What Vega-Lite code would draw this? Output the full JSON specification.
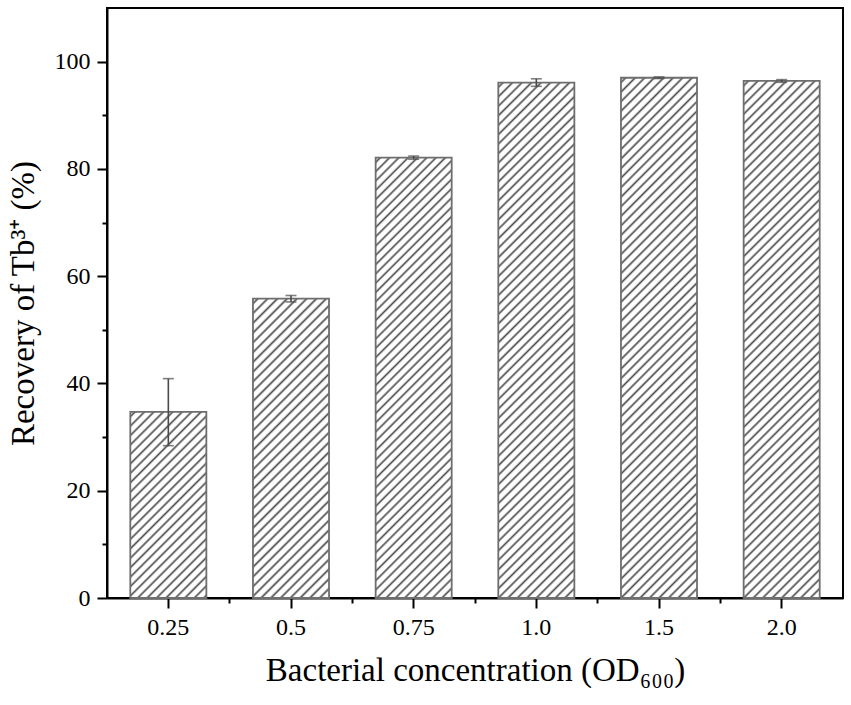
{
  "$schema": "https://vega.github.io/schema/vega-lite/v6.json",
  "width": 736,
  "height": 590,
  "autosize": "none",
  "padding": {"left": 107, "top": 8, "right": 8, "bottom": 107},
  "background": "white",
  "data": {
    "values": [
      {"od": "0.25", "recovery": 34.7, "lo": 28.4, "hi": 40.9},
      {"od": "0.5", "recovery": 55.8, "lo": 55.2, "hi": 56.4},
      {"od": "0.75", "recovery": 82.1, "lo": 81.8, "hi": 82.4},
      {"od": "1.0", "recovery": 96.1, "lo": 95.4, "hi": 96.8},
      {"od": "1.5", "recovery": 97.0, "lo": 96.85, "hi": 97.15},
      {"od": "2.0", "recovery": 96.4, "lo": 96.15, "hi": 96.65}
    ]
  },
  "layer": [
    {
      "mark": {"type": "bar", "stroke": "#6e6e6e", "strokeWidth": 1.8},
      "encoding": {
        "x": {
          "field": "od", "type": "nominal", "sort": null,
          "scale": {"paddingInner": 0.38, "paddingOuter": 0.19},
          "axis": {
            "orient": "bottom",
            "title": "Bacterial concentration (OD₆₀₀)",
            "labelAngle": 0, "labelFontSize": 24, "labelPadding": 7, "labelColor": "black",
            "tickSize": 10, "tickWidth": 2, "tickColor": "black",
            "domainColor": "black", "domainWidth": 2,
            "titleFontSize": 33, "titleFontWeight": "normal", "titleColor": "black", "titlePadding": 15,
            "grid": false
          }
        },
        "y": {
          "field": "recovery", "type": "quantitative",
          "scale": {"domain": [0, 110], "nice": false},
          "axis": {
            "orient": "left",
            "values": [0, 20, 40, 60, 80, 100],
            "title": "Recovery of Tb³⁺ (%)",
            "labelFontSize": 24, "labelPadding": 7, "labelColor": "black",
            "tickSize": 10, "tickWidth": 2, "tickColor": "black",
            "domainColor": "black", "domainWidth": 2,
            "titleFontSize": 33, "titleFontWeight": "normal", "titleColor": "black", "titlePadding": 14,
            "grid": false
          }
        },
        "fill": {
          "condition": [
            {"test": "datum.od == '0.25'", "value": {"gradient": "linear", "x1": 0, "y1": 0, "x2": 0.4933, "y2": 1.2071, "stops": [
              {"offset":0.009,"color":"#fff"},{"offset":0.018,"color":"#4d4d4d"},{"offset":0.027,"color":"#fff"},
              {"offset":0.045,"color":"#fff"},{"offset":0.054,"color":"#4d4d4d"},{"offset":0.063,"color":"#fff"},
              {"offset":0.081,"color":"#fff"},{"offset":0.090,"color":"#4d4d4d"},{"offset":0.099,"color":"#fff"},
              {"offset":0.117,"color":"#fff"},{"offset":0.126,"color":"#4d4d4d"},{"offset":0.135,"color":"#fff"},
              {"offset":0.153,"color":"#fff"},{"offset":0.162,"color":"#4d4d4d"},{"offset":0.171,"color":"#fff"},
              {"offset":0.189,"color":"#fff"},{"offset":0.198,"color":"#4d4d4d"},{"offset":0.207,"color":"#fff"},
              {"offset":0.225,"color":"#fff"},{"offset":0.234,"color":"#4d4d4d"},{"offset":0.243,"color":"#fff"},
              {"offset":0.261,"color":"#fff"},{"offset":0.270,"color":"#4d4d4d"},{"offset":0.279,"color":"#fff"},
              {"offset":0.297,"color":"#fff"},{"offset":0.306,"color":"#4d4d4d"},{"offset":0.315,"color":"#fff"},
              {"offset":0.333,"color":"#fff"},{"offset":0.342,"color":"#4d4d4d"},{"offset":0.351,"color":"#fff"},
              {"offset":0.369,"color":"#fff"},{"offset":0.378,"color":"#4d4d4d"},{"offset":0.387,"color":"#fff"},
              {"offset":0.405,"color":"#fff"},{"offset":0.414,"color":"#4d4d4d"},{"offset":0.423,"color":"#fff"},
              {"offset":0.441,"color":"#fff"},{"offset":0.450,"color":"#4d4d4d"},{"offset":0.459,"color":"#fff"},
              {"offset":0.477,"color":"#fff"},{"offset":0.486,"color":"#4d4d4d"},{"offset":0.495,"color":"#fff"},
              {"offset":0.513,"color":"#fff"},{"offset":0.522,"color":"#4d4d4d"},{"offset":0.531,"color":"#fff"},
              {"offset":0.549,"color":"#fff"},{"offset":0.558,"color":"#4d4d4d"},{"offset":0.567,"color":"#fff"},
              {"offset":0.585,"color":"#fff"},{"offset":0.594,"color":"#4d4d4d"},{"offset":0.603,"color":"#fff"},
              {"offset":0.621,"color":"#fff"},{"offset":0.630,"color":"#4d4d4d"},{"offset":0.639,"color":"#fff"},
              {"offset":0.657,"color":"#fff"},{"offset":0.666,"color":"#4d4d4d"},{"offset":0.675,"color":"#fff"},
              {"offset":0.693,"color":"#fff"},{"offset":0.702,"color":"#4d4d4d"},{"offset":0.711,"color":"#fff"},
              {"offset":0.729,"color":"#fff"},{"offset":0.738,"color":"#4d4d4d"},{"offset":0.747,"color":"#fff"},
              {"offset":0.765,"color":"#fff"},{"offset":0.774,"color":"#4d4d4d"},{"offset":0.783,"color":"#fff"},
              {"offset":0.801,"color":"#fff"},{"offset":0.810,"color":"#4d4d4d"},{"offset":0.819,"color":"#fff"},
              {"offset":0.837,"color":"#fff"},{"offset":0.846,"color":"#4d4d4d"},{"offset":0.855,"color":"#fff"},
              {"offset":0.873,"color":"#fff"},{"offset":0.882,"color":"#4d4d4d"},{"offset":0.891,"color":"#fff"},
              {"offset":0.909,"color":"#fff"},{"offset":0.918,"color":"#4d4d4d"},{"offset":0.927,"color":"#fff"},
              {"offset":0.945,"color":"#fff"},{"offset":0.954,"color":"#4d4d4d"},{"offset":0.963,"color":"#fff"},
              {"offset":0.981,"color":"#fff"},{"offset":0.990,"color":"#4d4d4d"},{"offset":0.999,"color":"#fff"}
            ]}},
            {"test": "datum.od == '0.5'", "value": {"gradient": "linear", "x1": 0, "y1": 0, "x2": 0.2993, "y2": 1.178, "stops": [
              {"offset":0.0065,"color":"#fff"},{"offset":0.013,"color":"#4d4d4d"},{"offset":0.0195,"color":"#fff"},
              {"offset":0.0325,"color":"#fff"},{"offset":0.039,"color":"#4d4d4d"},{"offset":0.0455,"color":"#fff"},
              {"offset":0.0585,"color":"#fff"},{"offset":0.065,"color":"#4d4d4d"},{"offset":0.0715,"color":"#fff"},
              {"offset":0.0845,"color":"#fff"},{"offset":0.091,"color":"#4d4d4d"},{"offset":0.0975,"color":"#fff"},
              {"offset":0.1105,"color":"#fff"},{"offset":0.117,"color":"#4d4d4d"},{"offset":0.1235,"color":"#fff"},
              {"offset":0.1365,"color":"#fff"},{"offset":0.143,"color":"#4d4d4d"},{"offset":0.1495,"color":"#fff"},
              {"offset":0.1625,"color":"#fff"},{"offset":0.169,"color":"#4d4d4d"},{"offset":0.1755,"color":"#fff"},
              {"offset":0.1885,"color":"#fff"},{"offset":0.195,"color":"#4d4d4d"},{"offset":0.2015,"color":"#fff"},
              {"offset":0.2145,"color":"#fff"},{"offset":0.221,"color":"#4d4d4d"},{"offset":0.2275,"color":"#fff"},
              {"offset":0.2405,"color":"#fff"},{"offset":0.247,"color":"#4d4d4d"},{"offset":0.2535,"color":"#fff"},
              {"offset":0.2665,"color":"#fff"},{"offset":0.273,"color":"#4d4d4d"},{"offset":0.2795,"color":"#fff"},
              {"offset":0.2925,"color":"#fff"},{"offset":0.299,"color":"#4d4d4d"},{"offset":0.3055,"color":"#fff"},
              {"offset":0.3185,"color":"#fff"},{"offset":0.325,"color":"#4d4d4d"},{"offset":0.3315,"color":"#fff"},
              {"offset":0.3445,"color":"#fff"},{"offset":0.351,"color":"#4d4d4d"},{"offset":0.3575,"color":"#fff"},
              {"offset":0.3705,"color":"#fff"},{"offset":0.377,"color":"#4d4d4d"},{"offset":0.3835,"color":"#fff"},
              {"offset":0.3965,"color":"#fff"},{"offset":0.403,"color":"#4d4d4d"},{"offset":0.4095,"color":"#fff"},
              {"offset":0.4225,"color":"#fff"},{"offset":0.429,"color":"#4d4d4d"},{"offset":0.4355,"color":"#fff"},
              {"offset":0.4485,"color":"#fff"},{"offset":0.455,"color":"#4d4d4d"},{"offset":0.4615,"color":"#fff"},
              {"offset":0.4745,"color":"#fff"},{"offset":0.481,"color":"#4d4d4d"},{"offset":0.4875,"color":"#fff"},
              {"offset":0.5005,"color":"#fff"},{"offset":0.507,"color":"#4d4d4d"},{"offset":0.5135,"color":"#fff"},
              {"offset":0.5265,"color":"#fff"},{"offset":0.533,"color":"#4d4d4d"},{"offset":0.5395,"color":"#fff"},
              {"offset":0.5525,"color":"#fff"},{"offset":0.559,"color":"#4d4d4d"},{"offset":0.5655,"color":"#fff"},
              {"offset":0.5785,"color":"#fff"},{"offset":0.585,"color":"#4d4d4d"},{"offset":0.5915,"color":"#fff"},
              {"offset":0.6045,"color":"#fff"},{"offset":0.611,"color":"#4d4d4d"},{"offset":0.6175,"color":"#fff"},
              {"offset":0.6305,"color":"#fff"},{"offset":0.637,"color":"#4d4d4d"},{"offset":0.6435,"color":"#fff"},
              {"offset":0.6565,"color":"#fff"},{"offset":0.663,"color":"#4d4d4d"},{"offset":0.6695,"color":"#fff"},
              {"offset":0.6825,"color":"#fff"},{"offset":0.689,"color":"#4d4d4d"},{"offset":0.6955,"color":"#fff"},
              {"offset":0.7085,"color":"#fff"},{"offset":0.715,"color":"#4d4d4d"},{"offset":0.7215,"color":"#fff"},
              {"offset":0.7345,"color":"#fff"},{"offset":0.741,"color":"#4d4d4d"},{"offset":0.7475,"color":"#fff"},
              {"offset":0.7605,"color":"#fff"},{"offset":0.767,"color":"#4d4d4d"},{"offset":0.7735,"color":"#fff"},
              {"offset":0.7865,"color":"#fff"},{"offset":0.793,"color":"#4d4d4d"},{"offset":0.7995,"color":"#fff"},
              {"offset":0.8125,"color":"#fff"},{"offset":0.819,"color":"#4d4d4d"},{"offset":0.8255,"color":"#fff"},
              {"offset":0.8385,"color":"#fff"},{"offset":0.845,"color":"#4d4d4d"},{"offset":0.8515,"color":"#fff"},
              {"offset":0.8645,"color":"#fff"},{"offset":0.871,"color":"#4d4d4d"},{"offset":0.8775,"color":"#fff"},
              {"offset":0.8905,"color":"#fff"},{"offset":0.897,"color":"#4d4d4d"},{"offset":0.9035,"color":"#fff"},
              {"offset":0.9165,"color":"#fff"},{"offset":0.923,"color":"#4d4d4d"},{"offset":0.9295,"color":"#fff"},
              {"offset":0.9425,"color":"#fff"},{"offset":0.949,"color":"#4d4d4d"},{"offset":0.9555,"color":"#fff"},
              {"offset":0.9685,"color":"#fff"},{"offset":0.975,"color":"#4d4d4d"},{"offset":0.9815,"color":"#fff"}
            ]}},
            {"test": "datum.od == '0.75'", "value": {"gradient": "linear", "x1": 0, "y1": 0, "x2": 0.1967, "y2": 1.1388, "stops": [
              {"offset":0.0045,"color":"#fff"},{"offset":0.009,"color":"#4d4d4d"},{"offset":0.0135,"color":"#fff"},
              {"offset":0.0225,"color":"#fff"},{"offset":0.027,"color":"#4d4d4d"},{"offset":0.0315,"color":"#fff"},
              {"offset":0.0405,"color":"#fff"},{"offset":0.045,"color":"#4d4d4d"},{"offset":0.0495,"color":"#fff"},
              {"offset":0.0585,"color":"#fff"},{"offset":0.063,"color":"#4d4d4d"},{"offset":0.0675,"color":"#fff"},
              {"offset":0.0765,"color":"#fff"},{"offset":0.081,"color":"#4d4d4d"},{"offset":0.0855,"color":"#fff"},
              {"offset":0.0945,"color":"#fff"},{"offset":0.099,"color":"#4d4d4d"},{"offset":0.1035,"color":"#fff"},
              {"offset":0.1125,"color":"#fff"},{"offset":0.117,"color":"#4d4d4d"},{"offset":0.1215,"color":"#fff"},
              {"offset":0.1305,"color":"#fff"},{"offset":0.135,"color":"#4d4d4d"},{"offset":0.1395,"color":"#fff"},
              {"offset":0.1485,"color":"#fff"},{"offset":0.153,"color":"#4d4d4d"},{"offset":0.1575,"color":"#fff"},
              {"offset":0.1665,"color":"#fff"},{"offset":0.171,"color":"#4d4d4d"},{"offset":0.1755,"color":"#fff"},
              {"offset":0.1845,"color":"#fff"},{"offset":0.189,"color":"#4d4d4d"},{"offset":0.1935,"color":"#fff"},
              {"offset":0.2025,"color":"#fff"},{"offset":0.207,"color":"#4d4d4d"},{"offset":0.2115,"color":"#fff"},
              {"offset":0.2205,"color":"#fff"},{"offset":0.225,"color":"#4d4d4d"},{"offset":0.2295,"color":"#fff"},
              {"offset":0.2385,"color":"#fff"},{"offset":0.243,"color":"#4d4d4d"},{"offset":0.2475,"color":"#fff"},
              {"offset":0.2565,"color":"#fff"},{"offset":0.261,"color":"#4d4d4d"},{"offset":0.2655,"color":"#fff"},
              {"offset":0.2745,"color":"#fff"},{"offset":0.279,"color":"#4d4d4d"},{"offset":0.2835,"color":"#fff"},
              {"offset":0.2925,"color":"#fff"},{"offset":0.297,"color":"#4d4d4d"},{"offset":0.3015,"color":"#fff"},
              {"offset":0.3105,"color":"#fff"},{"offset":0.315,"color":"#4d4d4d"},{"offset":0.3195,"color":"#fff"},
              {"offset":0.3285,"color":"#fff"},{"offset":0.333,"color":"#4d4d4d"},{"offset":0.3375,"color":"#fff"},
              {"offset":0.3465,"color":"#fff"},{"offset":0.351,"color":"#4d4d4d"},{"offset":0.3555,"color":"#fff"},
              {"offset":0.3645,"color":"#fff"},{"offset":0.369,"color":"#4d4d4d"},{"offset":0.3735,"color":"#fff"},
              {"offset":0.3825,"color":"#fff"},{"offset":0.387,"color":"#4d4d4d"},{"offset":0.3915,"color":"#fff"},
              {"offset":0.4005,"color":"#fff"},{"offset":0.405,"color":"#4d4d4d"},{"offset":0.4095,"color":"#fff"},
              {"offset":0.4185,"color":"#fff"},{"offset":0.423,"color":"#4d4d4d"},{"offset":0.4275,"color":"#fff"},
              {"offset":0.4365,"color":"#fff"},{"offset":0.441,"color":"#4d4d4d"},{"offset":0.4455,"color":"#fff"},
              {"offset":0.4545,"color":"#fff"},{"offset":0.459,"color":"#4d4d4d"},{"offset":0.4635,"color":"#fff"},
              {"offset":0.4725,"color":"#fff"},{"offset":0.477,"color":"#4d4d4d"},{"offset":0.4815,"color":"#fff"},
              {"offset":0.4905,"color":"#fff"},{"offset":0.495,"color":"#4d4d4d"},{"offset":0.4995,"color":"#fff"},
              {"offset":0.5085,"color":"#fff"},{"offset":0.513,"color":"#4d4d4d"},{"offset":0.5175,"color":"#fff"},
              {"offset":0.5265,"color":"#fff"},{"offset":0.531,"color":"#4d4d4d"},{"offset":0.5355,"color":"#fff"},
              {"offset":0.5445,"color":"#fff"},{"offset":0.549,"color":"#4d4d4d"},{"offset":0.5535,"color":"#fff"},
              {"offset":0.5625,"color":"#fff"},{"offset":0.567,"color":"#4d4d4d"},{"offset":0.5715,"color":"#fff"},
              {"offset":0.5805,"color":"#fff"},{"offset":0.585,"color":"#4d4d4d"},{"offset":0.5895,"color":"#fff"},
              {"offset":0.5985,"color":"#fff"},{"offset":0.603,"color":"#4d4d4d"},{"offset":0.6075,"color":"#fff"},
              {"offset":0.6165,"color":"#fff"},{"offset":0.621,"color":"#4d4d4d"},{"offset":0.6255,"color":"#fff"},
              {"offset":0.6345,"color":"#fff"},{"offset":0.639,"color":"#4d4d4d"},{"offset":0.6435,"color":"#fff"},
              {"offset":0.6525,"color":"#fff"},{"offset":0.657,"color":"#4d4d4d"},{"offset":0.6615,"color":"#fff"},
              {"offset":0.6705,"color":"#fff"},{"offset":0.675,"color":"#4d4d4d"},{"offset":0.6795,"color":"#fff"},
              {"offset":0.6885,"color":"#fff"},{"offset":0.693,"color":"#4d4d4d"},{"offset":0.6975,"color":"#fff"},
              {"offset":0.7065,"color":"#fff"},{"offset":0.711,"color":"#4d4d4d"},{"offset":0.7155,"color":"#fff"},
              {"offset":0.7245,"color":"#fff"},{"offset":0.729,"color":"#4d4d4d"},{"offset":0.7335,"color":"#fff"},
              {"offset":0.7425,"color":"#fff"},{"offset":0.747,"color":"#4d4d4d"},{"offset":0.7515,"color":"#fff"},
              {"offset":0.7605,"color":"#fff"},{"offset":0.765,"color":"#4d4d4d"},{"offset":0.7695,"color":"#fff"},
              {"offset":0.7785,"color":"#fff"},{"offset":0.783,"color":"#4d4d4d"},{"offset":0.7875,"color":"#fff"},
              {"offset":0.7965,"color":"#fff"},{"offset":0.801,"color":"#4d4d4d"},{"offset":0.8055,"color":"#fff"},
              {"offset":0.8145,"color":"#fff"},{"offset":0.819,"color":"#4d4d4d"},{"offset":0.8235,"color":"#fff"},
              {"offset":0.8325,"color":"#fff"},{"offset":0.837,"color":"#4d4d4d"},{"offset":0.8415,"color":"#fff"},
              {"offset":0.8505,"color":"#fff"},{"offset":0.855,"color":"#4d4d4d"},{"offset":0.8595,"color":"#fff"},
              {"offset":0.8685,"color":"#fff"},{"offset":0.873,"color":"#4d4d4d"},{"offset":0.8775,"color":"#fff"},
              {"offset":0.8865,"color":"#fff"},{"offset":0.891,"color":"#4d4d4d"},{"offset":0.8955,"color":"#fff"},
              {"offset":0.9045,"color":"#fff"},{"offset":0.909,"color":"#4d4d4d"},{"offset":0.9135,"color":"#fff"},
              {"offset":0.9225,"color":"#fff"},{"offset":0.927,"color":"#4d4d4d"},{"offset":0.9315,"color":"#fff"},
              {"offset":0.9405,"color":"#fff"},{"offset":0.945,"color":"#4d4d4d"},{"offset":0.9495,"color":"#fff"},
              {"offset":0.9585,"color":"#fff"},{"offset":0.963,"color":"#4d4d4d"},{"offset":0.9675,"color":"#fff"},
              {"offset":0.9765,"color":"#fff"},{"offset":0.981,"color":"#4d4d4d"},{"offset":0.9855,"color":"#fff"}
            ]}}
          ],
          "value": {"gradient": "linear", "x1": 0, "y1": 0, "x2": 0.165, "y2": 1.1227, "stops": [
            {"offset":0.004,"color":"#fff"},{"offset":0.008,"color":"#4d4d4d"},{"offset":0.012,"color":"#fff"},
            {"offset":0.020,"color":"#fff"},{"offset":0.024,"color":"#4d4d4d"},{"offset":0.028,"color":"#fff"},
            {"offset":0.036,"color":"#fff"},{"offset":0.040,"color":"#4d4d4d"},{"offset":0.044,"color":"#fff"},
            {"offset":0.052,"color":"#fff"},{"offset":0.056,"color":"#4d4d4d"},{"offset":0.060,"color":"#fff"},
            {"offset":0.068,"color":"#fff"},{"offset":0.072,"color":"#4d4d4d"},{"offset":0.076,"color":"#fff"},
            {"offset":0.084,"color":"#fff"},{"offset":0.088,"color":"#4d4d4d"},{"offset":0.092,"color":"#fff"},
            {"offset":0.100,"color":"#fff"},{"offset":0.104,"color":"#4d4d4d"},{"offset":0.108,"color":"#fff"},
            {"offset":0.116,"color":"#fff"},{"offset":0.120,"color":"#4d4d4d"},{"offset":0.124,"color":"#fff"},
            {"offset":0.132,"color":"#fff"},{"offset":0.136,"color":"#4d4d4d"},{"offset":0.140,"color":"#fff"},
            {"offset":0.148,"color":"#fff"},{"offset":0.152,"color":"#4d4d4d"},{"offset":0.156,"color":"#fff"},
            {"offset":0.164,"color":"#fff"},{"offset":0.168,"color":"#4d4d4d"},{"offset":0.172,"color":"#fff"},
            {"offset":0.180,"color":"#fff"},{"offset":0.184,"color":"#4d4d4d"},{"offset":0.188,"color":"#fff"},
            {"offset":0.196,"color":"#fff"},{"offset":0.200,"color":"#4d4d4d"},{"offset":0.204,"color":"#fff"},
            {"offset":0.212,"color":"#fff"},{"offset":0.216,"color":"#4d4d4d"},{"offset":0.220,"color":"#fff"},
            {"offset":0.228,"color":"#fff"},{"offset":0.232,"color":"#4d4d4d"},{"offset":0.236,"color":"#fff"},
            {"offset":0.244,"color":"#fff"},{"offset":0.248,"color":"#4d4d4d"},{"offset":0.252,"color":"#fff"},
            {"offset":0.260,"color":"#fff"},{"offset":0.264,"color":"#4d4d4d"},{"offset":0.268,"color":"#fff"},
            {"offset":0.276,"color":"#fff"},{"offset":0.280,"color":"#4d4d4d"},{"offset":0.284,"color":"#fff"},
            {"offset":0.292,"color":"#fff"},{"offset":0.296,"color":"#4d4d4d"},{"offset":0.300,"color":"#fff"},
            {"offset":0.308,"color":"#fff"},{"offset":0.312,"color":"#4d4d4d"},{"offset":0.316,"color":"#fff"},
            {"offset":0.324,"color":"#fff"},{"offset":0.328,"color":"#4d4d4d"},{"offset":0.332,"color":"#fff"},
            {"offset":0.340,"color":"#fff"},{"offset":0.344,"color":"#4d4d4d"},{"offset":0.348,"color":"#fff"},
            {"offset":0.356,"color":"#fff"},{"offset":0.360,"color":"#4d4d4d"},{"offset":0.364,"color":"#fff"},
            {"offset":0.372,"color":"#fff"},{"offset":0.376,"color":"#4d4d4d"},{"offset":0.380,"color":"#fff"},
            {"offset":0.388,"color":"#fff"},{"offset":0.392,"color":"#4d4d4d"},{"offset":0.396,"color":"#fff"},
            {"offset":0.404,"color":"#fff"},{"offset":0.408,"color":"#4d4d4d"},{"offset":0.412,"color":"#fff"},
            {"offset":0.420,"color":"#fff"},{"offset":0.424,"color":"#4d4d4d"},{"offset":0.428,"color":"#fff"},
            {"offset":0.436,"color":"#fff"},{"offset":0.440,"color":"#4d4d4d"},{"offset":0.444,"color":"#fff"},
            {"offset":0.452,"color":"#fff"},{"offset":0.456,"color":"#4d4d4d"},{"offset":0.460,"color":"#fff"},
            {"offset":0.468,"color":"#fff"},{"offset":0.472,"color":"#4d4d4d"},{"offset":0.476,"color":"#fff"},
            {"offset":0.484,"color":"#fff"},{"offset":0.488,"color":"#4d4d4d"},{"offset":0.492,"color":"#fff"},
            {"offset":0.500,"color":"#fff"},{"offset":0.504,"color":"#4d4d4d"},{"offset":0.508,"color":"#fff"},
            {"offset":0.516,"color":"#fff"},{"offset":0.520,"color":"#4d4d4d"},{"offset":0.524,"color":"#fff"},
            {"offset":0.532,"color":"#fff"},{"offset":0.536,"color":"#4d4d4d"},{"offset":0.540,"color":"#fff"},
            {"offset":0.548,"color":"#fff"},{"offset":0.552,"color":"#4d4d4d"},{"offset":0.556,"color":"#fff"},
            {"offset":0.564,"color":"#fff"},{"offset":0.568,"color":"#4d4d4d"},{"offset":0.572,"color":"#fff"},
            {"offset":0.580,"color":"#fff"},{"offset":0.584,"color":"#4d4d4d"},{"offset":0.588,"color":"#fff"},
            {"offset":0.596,"color":"#fff"},{"offset":0.600,"color":"#4d4d4d"},{"offset":0.604,"color":"#fff"},
            {"offset":0.612,"color":"#fff"},{"offset":0.616,"color":"#4d4d4d"},{"offset":0.620,"color":"#fff"},
            {"offset":0.628,"color":"#fff"},{"offset":0.632,"color":"#4d4d4d"},{"offset":0.636,"color":"#fff"},
            {"offset":0.644,"color":"#fff"},{"offset":0.648,"color":"#4d4d4d"},{"offset":0.652,"color":"#fff"},
            {"offset":0.660,"color":"#fff"},{"offset":0.664,"color":"#4d4d4d"},{"offset":0.668,"color":"#fff"},
            {"offset":0.676,"color":"#fff"},{"offset":0.680,"color":"#4d4d4d"},{"offset":0.684,"color":"#fff"},
            {"offset":0.692,"color":"#fff"},{"offset":0.696,"color":"#4d4d4d"},{"offset":0.700,"color":"#fff"},
            {"offset":0.708,"color":"#fff"},{"offset":0.712,"color":"#4d4d4d"},{"offset":0.716,"color":"#fff"},
            {"offset":0.724,"color":"#fff"},{"offset":0.728,"color":"#4d4d4d"},{"offset":0.732,"color":"#fff"},
            {"offset":0.740,"color":"#fff"},{"offset":0.744,"color":"#4d4d4d"},{"offset":0.748,"color":"#fff"},
            {"offset":0.756,"color":"#fff"},{"offset":0.760,"color":"#4d4d4d"},{"offset":0.764,"color":"#fff"},
            {"offset":0.772,"color":"#fff"},{"offset":0.776,"color":"#4d4d4d"},{"offset":0.780,"color":"#fff"},
            {"offset":0.788,"color":"#fff"},{"offset":0.792,"color":"#4d4d4d"},{"offset":0.796,"color":"#fff"},
            {"offset":0.804,"color":"#fff"},{"offset":0.808,"color":"#4d4d4d"},{"offset":0.812,"color":"#fff"},
            {"offset":0.820,"color":"#fff"},{"offset":0.824,"color":"#4d4d4d"},{"offset":0.828,"color":"#fff"},
            {"offset":0.836,"color":"#fff"},{"offset":0.840,"color":"#4d4d4d"},{"offset":0.844,"color":"#fff"},
            {"offset":0.852,"color":"#fff"},{"offset":0.856,"color":"#4d4d4d"},{"offset":0.860,"color":"#fff"},
            {"offset":0.868,"color":"#fff"},{"offset":0.872,"color":"#4d4d4d"},{"offset":0.876,"color":"#fff"},
            {"offset":0.884,"color":"#fff"},{"offset":0.888,"color":"#4d4d4d"},{"offset":0.892,"color":"#fff"},
            {"offset":0.900,"color":"#fff"},{"offset":0.904,"color":"#4d4d4d"},{"offset":0.908,"color":"#fff"},
            {"offset":0.916,"color":"#fff"},{"offset":0.920,"color":"#4d4d4d"},{"offset":0.924,"color":"#fff"},
            {"offset":0.932,"color":"#fff"},{"offset":0.936,"color":"#4d4d4d"},{"offset":0.940,"color":"#fff"},
            {"offset":0.948,"color":"#fff"},{"offset":0.952,"color":"#4d4d4d"},{"offset":0.956,"color":"#fff"},
            {"offset":0.964,"color":"#fff"},{"offset":0.968,"color":"#4d4d4d"},{"offset":0.972,"color":"#fff"},
            {"offset":0.980,"color":"#fff"},{"offset":0.984,"color":"#4d4d4d"},{"offset":0.988,"color":"#fff"}
          ]}
        }
      }
    },
    {
      "mark": {"type": "rule", "color": "#4a4a4a", "strokeWidth": 1.6},
      "encoding": {
        "x": {
          "field": "od", "type": "nominal", "sort": null,
          "scale": {"paddingInner": 0.38, "paddingOuter": 0.19},
          "axis": {
            "orient": "bottom", "bandPosition": 1.3065, "values": ["0.25", "0.5", "0.75", "1.0", "1.5"],
            "labels": false, "domain": false, "title": null, "grid": false,
            "tickSize": 5, "tickWidth": 2, "tickColor": "black"
          }
        },
        "y": {"field": "lo", "type": "quantitative", "scale": {"domain": [0, 110], "nice": false}, "axis": null},
        "y2": {"field": "hi"}
      }
    },
    {
      "mark": {"type": "tick", "color": "#4a4a4a", "thickness": 1.6, "size": 11},
      "encoding": {
        "x": {"field": "od", "type": "nominal", "sort": null, "axis": null},
        "y": {
          "field": "lo", "type": "quantitative", "scale": {"domain": [0, 110], "nice": false},
          "axis": {
            "orient": "left", "values": [10, 30, 50, 70, 90],
            "labels": false, "domain": false, "title": null, "grid": false,
            "tickSize": 5, "tickWidth": 2, "tickColor": "black"
          }
        }
      }
    },
    {
      "mark": {"type": "tick", "color": "#4a4a4a", "thickness": 1.6, "size": 11},
      "encoding": {
        "x": {"field": "od", "type": "nominal", "sort": null, "axis": null},
        "y": {"field": "hi", "type": "quantitative", "scale": {"domain": [0, 110], "nice": false}, "axis": null}
      }
    }
  ],
  "resolve": {"axis": {"x": "independent", "y": "independent"}},
  "config": {
    "font": "Liberation Serif",
    "view": {"stroke": "black", "strokeWidth": 2},
    "axis": {"labelFont": "Liberation Serif", "titleFont": "Liberation Serif"}
  }
}
